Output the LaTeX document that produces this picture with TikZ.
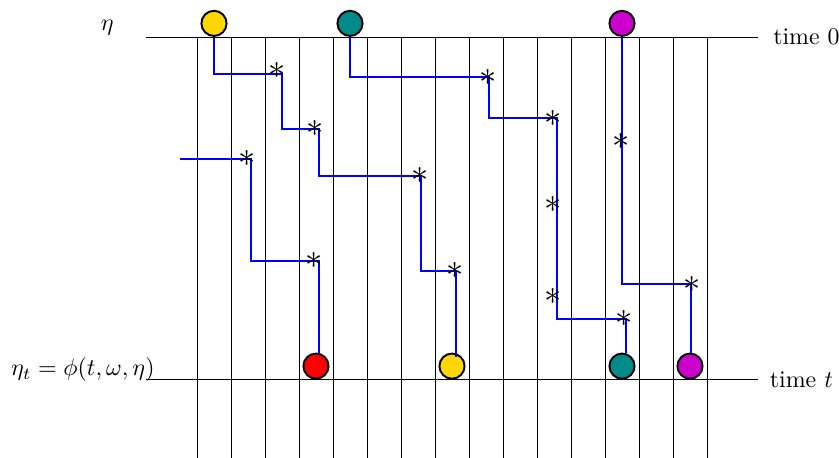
\documentclass[tikz,border=0pt]{standalone}
\usepackage{tikz}
\usetikzlibrary{positioning,calc}
\definecolor{PartYellow}{HTML}{FFD700}
\definecolor{PartTeal}{HTML}{008B8B}
\definecolor{PartRed}{HTML}{FF0000}
\definecolor{PartMagenta}{HTML}{CC00CC}
\definecolor{WalkBlue}{HTML}{0000FF}

\begin{document}
\begin{tikzpicture}
    \tikzset{particle/.style={circle,draw=black,thick,minimum size=0.37cm,inner sep=0pt},
      clockmark/.style={inner sep=0pt,font=\Large},
      walk/.style={draw=WalkBlue,thick}}
    \useasboundingbox (-2.897,-6.191) rectangle (9.441,0.544);
    % sites and the two time levels
    \foreach \k in {0,...,15} \draw (0.5*\k,0) -- (0.5*\k,-6.191);
    \draw (-0.75,0) -- (8.25,0);
    \draw (-0.75,-5.04) -- (8.25,-5.04);
    \node[anchor=west] (t0) at (8.35,0) {time 0};
    \node[anchor=west] (tt) at (8.30,-5.04) {time $t$};
    \node (eta) at (-1.32,0.13) {$\eta$};
    \node[anchor=east] (etat) at (-0.50,-4.89) {$\eta_t=\phi(t,\omega,\eta)$};
    % corners of the walks
    \coordinate (a1) at (1.246,-0.544);
    \coordinate (a2) at (1.794,-1.349);
    \coordinate (a3) at (3.294,-2.044);
    \coordinate (a4) at (3.812,-3.441);
    \coordinate (b0) at (-0.25,-1.794);
    \coordinate (b1) at (0.794,-1.794);
    \coordinate (b2) at (1.794,-3.294);
    \coordinate (c1) at (4.294,-0.593);
    \coordinate (c2) at (5.299,-1.196);
    \coordinate (c3) at (6.304,-4.147);
    \coordinate (d1) at (7.265,-3.637);
    % particles at time 0 and time t
    \node[particle,fill=PartYellow] (y0) at (0.25,0.2) {};
    \node[particle,fill=PartTeal] (c0) at (2.25,0.2) {};
    \node[particle,fill=PartMagenta] (m0) at (6.25,0.2) {};
    \node[particle,fill=PartRed] (rt) at (1.75,-4.84) {};
    \node[particle,fill=PartYellow] (yt) at (3.75,-4.84) {};
    \node[particle,fill=PartTeal] (ct) at (6.25,-4.84) {};
    \node[particle,fill=PartMagenta] (mt) at (7.25,-4.84) {};
    % walks
    \draw[walk] (y0.south) |- (a1) |- (a2) |- (a3) |- (a4);
    \draw[walk] (a4) -- ([yshift=-2pt]a4 |- yt.north);
    \draw[walk] (b0) -- (b1) |- (b2) -- (b2 |- rt.north);
    \draw[walk] (c0.south) |- (c1) |- (c2) |- (c3) -- (c3 |- ct.north);
    \draw[walk] (m0.south) |- (d1) -- (d1 |- mt.north);
    % clock rings
    \node[clockmark] (sa1) at (1.181,-0.496) {$\ast$};
    \node[clockmark] (sa2) at (1.735,-1.349) {$\ast$};
    \node[clockmark] (sa3) at (3.279,-2.044) {$\ast$};
    \node[clockmark] (sa4) at (3.794,-3.441) {$\ast$};
    \node[clockmark] (sb1) at (0.735,-1.794) {$\ast$};
    \node[clockmark] (sb2) at (1.721,-3.294) {$\ast$};
    \node[clockmark] (sc1) at (4.284,-0.593) {$\ast$};
    \node[clockmark] (sc2) at (5.240,-1.196) {$\ast$};
    \node[clockmark] (sc3) at (5.240,-2.456) {$\ast$};
    \node[clockmark] (sc4) at (5.240,-3.809) {$\ast$};
    \node[clockmark] (sc5) at (6.284,-4.147) {$\ast$};
    \node[clockmark] (sd1) at (6.231,-1.540) {$\ast$};
    \node[clockmark] (sd2) at (7.284,-3.637) {$\ast$};
\end{tikzpicture}
\end{document}
